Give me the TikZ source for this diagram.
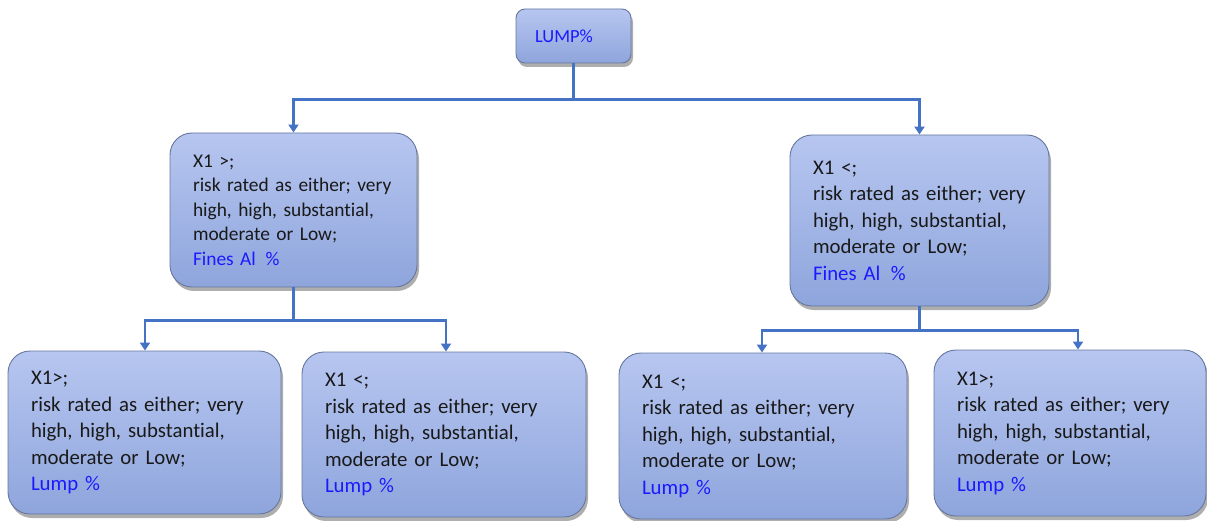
\documentclass[tikz,border=0pt]{standalone}
\usepackage{fontspec}
\setmainfont{Carlito}[Ligatures=NoCommon]
\usetikzlibrary{arrows.meta,shadows}
\definecolor{boxtop}{HTML}{B7C6F0}
\definecolor{boxbot}{HTML}{8EA5DC}
\definecolor{boxedge}{HTML}{66779E}
\definecolor{linkblue}{HTML}{4472C4}
\definecolor{txtblue}{HTML}{1A1AFF}
\tikzset{
  x=1pt, y=1pt,
  box/.style={draw=boxedge, line width=0.9pt, top color=boxtop, bottom color=boxbot,
    rounded corners=22pt, inner xsep=23pt, inner ysep=4pt, align=left,
    text=black!90,
    drop shadow={shadow xshift=2pt, shadow yshift=-4pt, opacity=0.45, fill=black!70}},
  rootbox/.style={box, rounded corners=9pt, inner xsep=19pt},
  conn/.style={draw=linkblue, line width=2.4pt,
    -{Triangle[length=8pt,width=10pt]}},
  big/.style={font=\fontsize{20.8}{26.5}\selectfont},
  mid/.style={font=\fontsize{19.4}{24.5}\selectfont},
}
\newcommand{\bl}[1]{\textcolor{txtblue}{#1}}
\newcommand{\fines}{\bl{Fines Al\hspace{0.5em}\%}}
\begin{document}
\begin{tikzpicture}
\useasboundingbox (0,0) rectangle (1207,-521);

% root
\node[rootbox, minimum width=115pt, minimum height=54pt, text width=77pt,
      font=\fontsize{18.5}{20}\selectfont] (root) at (573.5,-36) {\bl{LUMP\%}};

% second level
\node[box, mid, minimum width=247pt, minimum height=154pt, text width=201pt]
  (lm) at (293.5,-210) {X1 >;\\risk rated as either; very\\high, high, substantial,\\moderate or Low;\\\fines};
\node[box, big, minimum width=259pt, minimum height=171pt, text width=213pt]
  (rm) at (919.5,-220.5) {X1 <;\\risk rated as either; very\\high, high, substantial,\\moderate or Low;\\\fines};

% third level
\node[box, big, minimum width=273pt, minimum height=163pt, text width=227pt]
  (b1) at (144.5,-432.5) {X1>;\\risk rated as either; very\\high, high, substantial,\\moderate or Low;\\\bl{Lump \%}};
\node[box, big, minimum width=284pt, minimum height=165pt, text width=238pt]
  (b2) at (444,-434.5) {X1 <;\\risk rated as either; very\\high, high, substantial,\\moderate or Low;\\\bl{Lump \%}};
\node[box, big, minimum width=288pt, minimum height=166pt, text width=242pt]
  (b3) at (763,-436) {X1 <;\\risk rated as either; very\\high, high, substantial,\\moderate or Low;\\\bl{Lump \%}};
\node[box, big, minimum width=272pt, minimum height=166pt, text width=226pt]
  (b4) at (1070,-433) {X1>;\\risk rated as either; very\\high, high, substantial,\\moderate or Low;\\\bl{Lump \%}};

% connectors
\draw[conn] (root.south) -- ++(0,-36) -| (lm.north);
\draw[conn] (root.south) -- ++(0,-36) -| (rm.north);
\draw[conn] (lm.south) -- ++(0,-33) -| ([xshift=0.5pt]b1.north);
\draw[conn] (lm.south) -- ++(0,-33) -| ([xshift=2pt]b2.north);
\draw[conn] (rm.south) -- ++(0,-24) -| ([xshift=-1pt]b3.north);
\draw[conn] (rm.south) -- ++(0,-24) -| ([xshift=8pt]b4.north);
\end{tikzpicture}
\end{document}
